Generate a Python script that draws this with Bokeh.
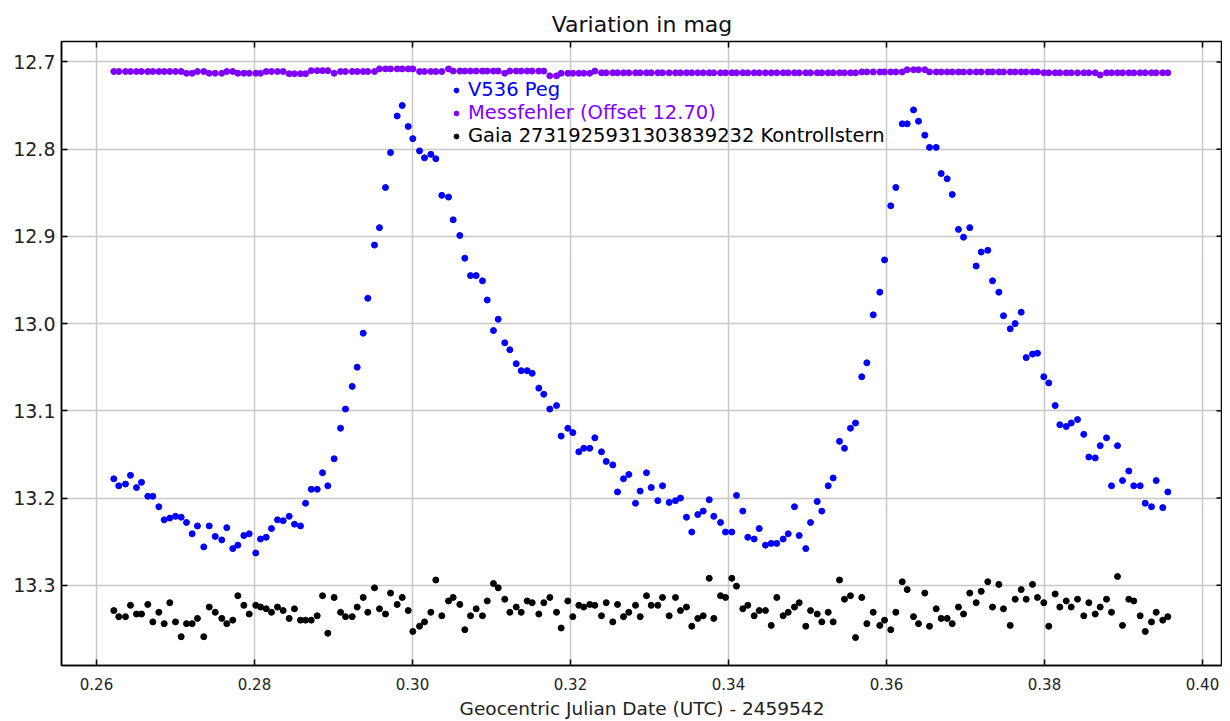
import math
from bokeh.plotting import figure
from bokeh.models import Range1d, FixedTicker, NumeralTickFormatter, Legend, LegendItem
from bokeh.embed import file_html
from bokeh.resources import INLINE

# Geocentric Julian Date (UTC) - 2459542
time = [
    0.26219, 0.26282, 0.26367, 0.26430, 0.26506, 0.26570, 0.26649, 0.26713, 0.26789, 0.26857,
    0.26928, 0.27000, 0.27072, 0.27139, 0.27211, 0.27278, 0.27358, 0.27427, 0.27503, 0.27586,
    0.27649, 0.27725, 0.27789, 0.27865, 0.27933, 0.28016, 0.28076, 0.28148, 0.28215, 0.28291,
    0.28363, 0.28439, 0.28506, 0.28582, 0.28646, 0.28718, 0.28794, 0.28861, 0.28928, 0.29008,
    0.29089, 0.29152, 0.29237, 0.29300, 0.29376, 0.29434, 0.29519, 0.29582, 0.29658, 0.29722,
    0.29806, 0.29870, 0.29946, 0.30004, 0.30089, 0.30152, 0.30232, 0.30295, 0.30371, 0.30456,
    0.30515, 0.30599, 0.30662, 0.30734, 0.30806, 0.30886, 0.30946, 0.31025, 0.31085, 0.31168,
    0.31232, 0.31313, 0.31376, 0.31452, 0.31515, 0.31599, 0.31662, 0.31738, 0.31823, 0.31882,
    0.31966, 0.32029, 0.32105, 0.32168, 0.32244, 0.32308, 0.32392, 0.32452, 0.32535, 0.32595,
    0.32671, 0.32738, 0.32823, 0.32882, 0.32962, 0.33022, 0.33105, 0.33165, 0.33249, 0.33329,
    0.33392, 0.33468, 0.33535, 0.33611, 0.33680, 0.33756, 0.33814, 0.33899, 0.33962, 0.34042,
    0.34101, 0.34181, 0.34244, 0.34325, 0.34389, 0.34468, 0.34541, 0.34611, 0.34692, 0.34756,
    0.34835, 0.34895, 0.34978, 0.35038, 0.35123, 0.35181, 0.35262, 0.35325, 0.35405, 0.35468,
    0.35544, 0.35608, 0.35687, 0.35751, 0.35832, 0.35915, 0.35975, 0.36054, 0.36118, 0.36199,
    0.36262, 0.36342, 0.36405, 0.36485, 0.36544, 0.36629, 0.36692, 0.36768, 0.36832, 0.36911,
    0.36975, 0.37054, 0.37135, 0.37199, 0.37282, 0.37342, 0.37422, 0.37481, 0.37566, 0.37629,
    0.37705, 0.37768, 0.37848, 0.37911, 0.37991, 0.38054, 0.38135, 0.38194, 0.38275, 0.38338,
    0.38418, 0.38497, 0.38561, 0.38642, 0.38705, 0.38785, 0.38848, 0.38924, 0.38987, 0.39067,
    0.39130, 0.39211, 0.39275, 0.39354, 0.39414, 0.39497, 0.39561,
]

v536_peg = [
    13.178, 13.186, 13.184, 13.174, 13.188, 13.182, 13.198, 13.198, 13.210, 13.225,
    13.223, 13.221, 13.222, 13.228, 13.241, 13.232, 13.256, 13.232, 13.244, 13.248,
    13.234, 13.258, 13.254, 13.243, 13.241, 13.263, 13.247, 13.245, 13.235, 13.225,
    13.226, 13.221, 13.230, 13.232, 13.206, 13.190, 13.190, 13.171, 13.186, 13.155,
    13.120, 13.098, 13.072, 13.050, 13.011, 12.971, 12.910, 12.890, 12.844, 12.804,
    12.762, 12.750, 12.774, 12.788, 12.802, 12.810, 12.806, 12.811, 12.853, 12.855,
    12.881, 12.899, 12.925, 12.945, 12.945, 12.951, 12.973, 13.008, 12.995, 13.022,
    13.030, 13.046, 13.054, 13.054, 13.057, 13.074, 13.081, 13.098, 13.094, 13.129,
    13.120, 13.125, 13.147, 13.143, 13.143, 13.131, 13.147, 13.158, 13.162, 13.193,
    13.178, 13.173, 13.206, 13.192, 13.171, 13.188, 13.203, 13.186, 13.205, 13.203,
    13.200, 13.222, 13.239, 13.219, 13.215, 13.202, 13.221, 13.228, 13.239, 13.239,
    13.197, 13.215, 13.245, 13.247, 13.235, 13.254, 13.252, 13.252, 13.247, 13.241,
    13.210, 13.243, 13.258, 13.228, 13.204, 13.215, 13.186, 13.177, 13.135, 13.143,
    13.120, 13.114, 13.061, 13.045, 12.990, 12.964, 12.927, 12.865, 12.844, 12.771,
    12.771, 12.755, 12.768, 12.784, 12.798, 12.798, 12.828, 12.834, 12.852, 12.892,
    12.901, 12.890, 12.934, 12.918, 12.916, 12.951, 12.964, 12.991, 13.006, 13.000,
    12.987, 13.039, 13.035, 13.034, 13.061, 13.068, 13.094, 13.116, 13.118, 13.114,
    13.110, 13.127, 13.153, 13.154, 13.140, 13.131, 13.186, 13.140, 13.180, 13.169,
    13.186, 13.186, 13.206, 13.210, 13.180, 13.211, 13.193,
]

messfehler = [
    12.711, 12.711, 12.711, 12.711, 12.711, 12.711, 12.711, 12.711, 12.711, 12.711,
    12.711, 12.711, 12.711, 12.713, 12.713, 12.711, 12.711, 12.713, 12.713, 12.713,
    12.711, 12.711, 12.713, 12.713, 12.713, 12.713, 12.713, 12.711, 12.711, 12.711,
    12.711, 12.7135, 12.7135, 12.7135, 12.7135, 12.710, 12.710, 12.710, 12.710, 12.713,
    12.711, 12.711, 12.711, 12.711, 12.711, 12.711, 12.711, 12.708, 12.708, 12.708,
    12.708, 12.708, 12.708, 12.708, 12.711, 12.711, 12.711, 12.711, 12.711, 12.708,
    12.7105, 12.7105, 12.7105, 12.7105, 12.7105, 12.7105, 12.7105, 12.7105, 12.7105, 12.713,
    12.7105, 12.7105, 12.7105, 12.7105, 12.7105, 12.7105, 12.7105, 12.716, 12.716, 12.713,
    12.713, 12.713, 12.713, 12.713, 12.713, 12.7105, 12.7125, 12.7125, 12.7125, 12.7125,
    12.7125, 12.7125, 12.7125, 12.7125, 12.7125, 12.7125, 12.7125, 12.7125, 12.7125, 12.7125,
    12.7125, 12.7125, 12.7125, 12.7125, 12.7125, 12.7125, 12.7125, 12.7125, 12.7125, 12.7125,
    12.7125, 12.7125, 12.7125, 12.7125, 12.7125, 12.7125, 12.7125, 12.7125, 12.7125, 12.7125,
    12.7125, 12.7125, 12.7125, 12.7125, 12.7125, 12.7125, 12.7125, 12.7125, 12.7125, 12.7125,
    12.7125, 12.7125, 12.7115, 12.7115, 12.7115, 12.7115, 12.7115, 12.7115, 12.7115, 12.7115,
    12.709, 12.709, 12.709, 12.709, 12.7115, 12.7115, 12.7115, 12.7115, 12.7115, 12.7115,
    12.7115, 12.7115, 12.7115, 12.7115, 12.7115, 12.7115, 12.7115, 12.7115, 12.7115, 12.7115,
    12.7115, 12.7115, 12.7115, 12.7115, 12.7125, 12.7125, 12.7125, 12.7125, 12.7125, 12.7125,
    12.7125, 12.7125, 12.7125, 12.7125, 12.715, 12.7125, 12.7125, 12.7125, 12.7125, 12.7125,
    12.7125, 12.7125, 12.7125, 12.7125, 12.7125, 12.7125, 12.7125,
]

kontrollstern = [
    13.329, 13.336, 13.336, 13.323, 13.333, 13.333, 13.322, 13.342, 13.331, 13.344,
    13.320, 13.342, 13.359, 13.344, 13.344, 13.338, 13.359, 13.325, 13.331, 13.338,
    13.344, 13.340, 13.312, 13.323, 13.333, 13.323, 13.325, 13.327, 13.331, 13.325,
    13.329, 13.338, 13.327, 13.340, 13.340, 13.340, 13.335, 13.312, 13.355, 13.314,
    13.331, 13.336, 13.336, 13.325, 13.314, 13.331, 13.303, 13.327, 13.333, 13.309,
    13.322, 13.314, 13.329, 13.353, 13.347, 13.342, 13.331, 13.294, 13.335, 13.318,
    13.314, 13.322, 13.351, 13.335, 13.327, 13.335, 13.318, 13.298, 13.303, 13.316,
    13.331, 13.325, 13.331, 13.318, 13.320, 13.333, 13.320, 13.314, 13.331, 13.349,
    13.318, 13.336, 13.323, 13.325, 13.322, 13.323, 13.335, 13.320, 13.342, 13.322,
    13.336, 13.331, 13.323, 13.336, 13.312, 13.323, 13.323, 13.314, 13.335, 13.314,
    13.329, 13.325, 13.347, 13.338, 13.335, 13.292, 13.338, 13.312, 13.314, 13.292,
    13.301, 13.327, 13.323, 13.335, 13.329, 13.329, 13.346, 13.314, 13.335, 13.331,
    13.325, 13.320, 13.347, 13.329, 13.333, 13.342, 13.331, 13.342, 13.294, 13.316,
    13.312, 13.360, 13.314, 13.344, 13.331, 13.346, 13.340, 13.351, 13.331, 13.296,
    13.305, 13.336, 13.344, 13.309, 13.347, 13.327, 13.338, 13.338, 13.344, 13.325,
    13.333, 13.309, 13.320, 13.307, 13.296, 13.325, 13.299, 13.327, 13.346, 13.316,
    13.305, 13.316, 13.299, 13.314, 13.320, 13.347, 13.310, 13.325, 13.318, 13.325,
    13.316, 13.335, 13.320, 13.333, 13.325, 13.316, 13.331, 13.290, 13.346, 13.316,
    13.318, 13.335, 13.353, 13.342, 13.331, 13.340, 13.336,
]

x_ticks = [0.26, 0.28, 0.30, 0.32, 0.34, 0.36, 0.38, 0.40]
y_ticks = [12.7, 12.8, 12.9, 13.0, 13.1, 13.2, 13.3]

labels = ["V536 Peg", "Messfehler (Offset 12.70)", "Gaia 2731925931303839232 Kontrollstern"]
colors = ["#0000ff", "#8000ff", "#000000"]

SANS = "DejaVu Sans"
X_MIN, X_MAX = 0.25557, 0.40253
Y_BOTTOM, Y_TOP = 13.392, 12.6766

p = figure(width=1222, height=721, output_backend="svg", toolbar_location=None,
           x_range=Range1d(X_MIN, X_MAX), y_range=Range1d(Y_BOTTOM, Y_TOP),
           min_border_left=61, min_border_right=0, min_border_top=41, min_border_bottom=54,
           title="Variation in mag")
p.title.align = "center"
p.title.text_font = SANS
p.title.text_font_size = "22px"
p.title.text_font_style = "normal"
p.title.text_color = "#111111"
p.title.standoff = 10

p.outline_line_color = "black"
p.outline_line_width = 1.5
p.background_fill_color = "white"
p.border_fill_color = "white"

xt = FixedTicker(ticks=x_ticks, minor_ticks=[])
yt = FixedTicker(ticks=y_ticks, minor_ticks=[])

for ax, t, fmt in ((p.xaxis[0], xt, "0.00"), (p.yaxis[0], yt, "0.0")):
    ax.ticker = t
    ax.formatter = NumeralTickFormatter(format=fmt)
    ax.major_tick_in = 6
    ax.major_tick_out = 0
    ax.minor_tick_line_color = None
    ax.axis_line_color = "black"
    ax.axis_line_width = 1.5
    ax.major_tick_line_color = "black"
    ax.major_tick_line_width = 1.5
    ax.major_label_text_font = SANS
    ax.major_label_text_color = "#222222"

p.xaxis.major_label_text_font_size = "15px"
p.xaxis.major_label_standoff = 12
p.yaxis.major_label_text_font_size = "19px"
p.yaxis.major_label_standoff = 6
p.xaxis.axis_label = "Geocentric Julian Date (UTC) - 2459542"
p.xaxis.axis_label_text_font = SANS
p.xaxis.axis_label_text_font_size = "18.5px"
p.xaxis.axis_label_text_font_style = "normal"
p.xaxis.axis_label_text_color = "#222222"
p.xaxis.axis_label_standoff = 5

p.xgrid.ticker = xt
p.ygrid.ticker = yt
for g in (p.xgrid[0], p.ygrid[0]):
    g.grid_line_color = "#c8c8c8"
    g.grid_line_width = 1.5

# inward tick marks on the top and right frame edges, at the same tick values
p.ray(x=x_ticks, y=[Y_TOP] * len(x_ticks), length=6, length_units="screen",
      angle=-math.pi / 2, line_color="black", line_width=1.5)
p.ray(x=[X_MAX] * len(y_ticks), y=y_ticks, length=6, length_units="screen",
      angle=math.pi, line_color="black", line_width=1.5)

r_blue = p.scatter(time, v536_peg, size=6, color=colors[0])
r_purple = p.scatter(time, messfehler, size=6, color=colors[1])
r_black = p.scatter(time, kontrollstern, size=6, color=colors[2])

legend_y = [564, 541, 518]
for lab, col, r, ly in zip(labels, colors, (r_blue, r_purple, r_black), legend_y):
    lg = Legend(items=[LegendItem(label=lab, renderers=[r])], location=(389, ly),
                label_text_color=col, label_text_font=SANS, label_text_font_size="19.5px",
                glyph_width=12, glyph_height=20, label_height=20, label_standoff=6,
                padding=0, margin=0, spacing=0, border_line_color=None,
                background_fill_alpha=0)
    p.add_layout(lg, "center")

open("out.html", "w").write(file_html(p, INLINE))
